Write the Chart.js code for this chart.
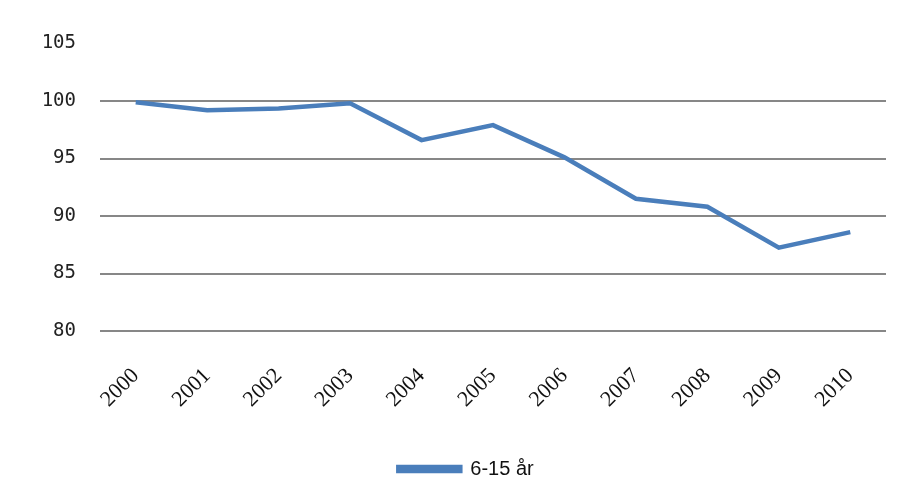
<!DOCTYPE html>
<html>
<head>
<meta charset="utf-8">
<script src="https://cdn.jsdelivr.net/npm/chart.js@4"></script>
<style>
  html, body { margin: 0; padding: 0; background: #fff; }
  #wrap { width: 905px; height: 504px; }
</style>
</head>
<body>
<div id="wrap"><canvas id="chart"></canvas></div>
<script>
// data
const years = ['2000', '2001', '2002', '2003', '2004', '2005', '2006', '2007', '2008', '2009', '2010'];
const values = [99.9, 99.2, 99.35, 99.8, 96.6, 97.9, 95.1, 91.5, 90.8, 87.25, 88.6];
const seriesName = '6-15 år';
const yMin = 80, yMax = 105, yStep = 5;

// legend sits a bit right of centre in the original
const shiftLegend = {
    id: 'shiftLegend',
    afterLayout(chart) {
        const lg = chart.legend;
        if (lg) { lg.left += 13; lg.right += 13; }
    }
};

const ctx = document.getElementById('chart').getContext('2d');
new Chart(ctx, {
    type: 'line',
    data: {
        labels: years,
        datasets: [{
            label: seriesName,
            data: values,
            borderColor: '#4A7EBB',
            backgroundColor: '#4A7EBB',
            borderWidth: 4.5,
            tension: 0,
            pointRadius: 0,
            fill: false
        }]
    },
    options: {
        responsive: true,
        maintainAspectRatio: false,
        animation: false,
        layout: { padding: { left: 20, right: 19, top: 43.5, bottom: 15 } },
        plugins: {
            tooltip: { enabled: false },
            legend: {
                position: 'bottom',
                labels: {
                    boxWidth: 62,
                    boxHeight: 4,
                    padding: 8,
                    color: '#111',
                    font: { family: 'Liberation Sans', size: 20 }
                }
            }
        },
        scales: {
            x: {
                offset: true,
                grid: { display: false },
                border: { display: false },
                ticks: {
                    maxRotation: 45,
                    minRotation: 45,
                    padding: 24,
                    color: '#111',
                    font: { family: 'Liberation Serif', size: 22 }
                },
                afterFit: (axis) => { axis.height = 120; }
            },
            y: {
                min: yMin,
                max: yMax,
                border: { display: false },
                grid: {
                    drawTicks: false,
                    lineWidth: 2,
                    color: (c) => (c.tick && c.tick.value === yMax) ? 'rgba(0,0,0,0)' : '#878787'
                },
                ticks: {
                    stepSize: yStep,
                    padding: 24,
                    color: '#222',
                    font: { family: 'DejaVu Sans Mono', size: 19 }
                },
                afterFit: (axis) => { axis.width = 80; }
            }
        }
    },
    plugins: [shiftLegend]
});
</script>
</body>
</html>
